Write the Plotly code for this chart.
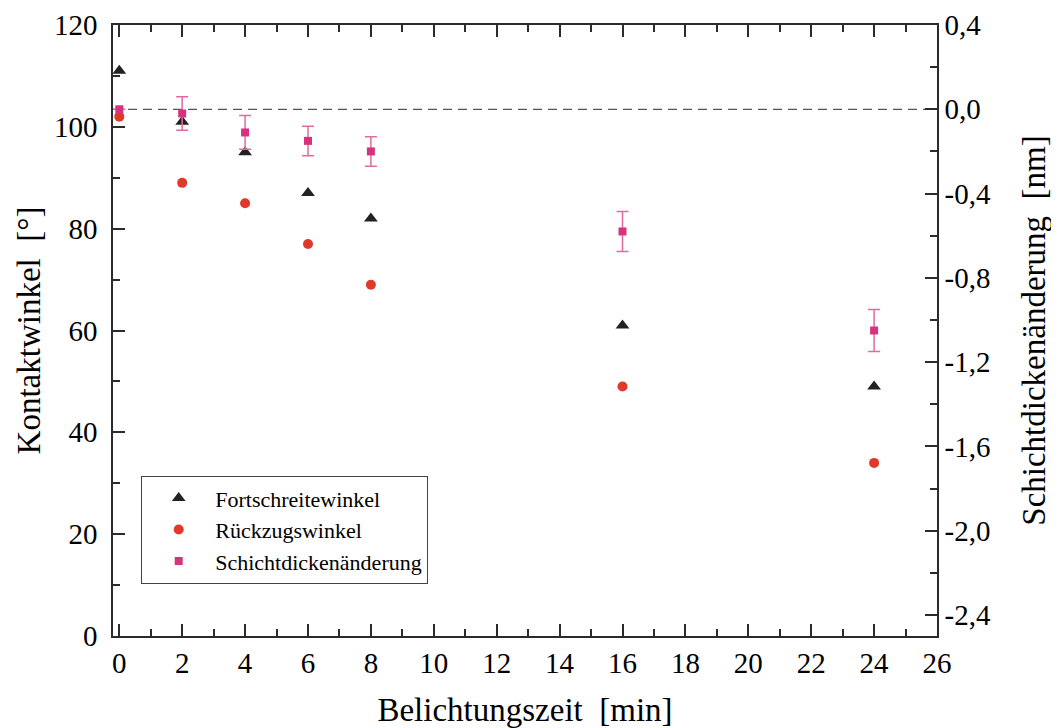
import plotly.graph_objects as go

# Data
zeit = [0, 2, 4, 6, 8, 16, 24]
fortschreitewinkel = [111, 101, 95, 87, 82, 61, 49]
rueckzugswinkel = [102, 89, 85, 77, 69, 49, 34]
schichtdicke = [0.0, -0.02, -0.11, -0.15, -0.20, -0.58, -1.05]
schichtdicke_err = [0.0, 0.08, 0.08, 0.07, 0.07, 0.095, 0.10]

x_tickvals = list(range(0, 27, 2))
y_tickvals = [0, 20, 40, 60, 80, 100, 120]
y2_tickvals = [0.4, 0.0, -0.4, -0.8, -1.2, -1.6, -2.0, -2.4]
y2_ticktext = ["0,4", "0,0", "-0,4", "-0,8", "-1,2", "-1,6", "-2,0", "-2,4"]

FONT = "Liberation Serif, Times New Roman, serif"
AX = "#2b2b2b"

fig = go.Figure()

fig.add_trace(go.Scatter(
    x=zeit, y=fortschreitewinkel, mode="markers", name="Fortschreitewinkel",
    legendgroup="a",
    marker=dict(symbol="triangle-up", size=12, color="#222222"),
))
fig.add_trace(go.Scatter(
    x=zeit, y=rueckzugswinkel, mode="markers", name="Rückzugswinkel",
    legendgroup="b",
    marker=dict(symbol="circle", size=10, color="#e0392b"),
))
fig.add_trace(go.Scatter(
    x=zeit, y=schichtdicke, mode="markers", name="Schichtdickenänderung",
    legendgroup="c", yaxis="y2",
    marker=dict(symbol="square", size=8, color="#d6337f"),
    error_y=dict(type="data", array=schichtdicke_err, visible=True,
                 color="#e36aa0", thickness=1.5, width=6),
))

# dashed reference line at 0 nm
fig.add_shape(type="line", xref="paper", x0=0, x1=1, yref="y2", y0=0, y1=0,
              line=dict(color="#555555", width=1.3, dash="9px,6px"), layer="below")

common_axis = dict(
    showline=True, linecolor=AX, linewidth=1.5, showgrid=False, zeroline=False,
    ticks="inside", ticklen=12, tickwidth=1.5, tickcolor=AX, automargin=False,
    tickfont=dict(family=FONT, size=29, color="black"),
)

fig.update_layout(
    width=1051, height=720,
    margin=dict(l=105, r=122, t=17, b=92),
    paper_bgcolor="white", plot_bgcolor="white",
    font=dict(family=FONT, color="black"),
    xaxis=dict(
        **common_axis, range=[-0.2, 26], tickvals=x_tickvals, mirror="ticks",
        minor=dict(dtick=1, tick0=0, ticks="inside", ticklen=7, tickwidth=1.5, tickcolor=AX),
        title=dict(text="Belichtungszeit  [min]", font=dict(family=FONT, size=33), standoff=22),
    ),
    yaxis=dict(
        **common_axis, range=[0, 120], tickvals=y_tickvals, ticklabelstandoff=8,
        minor=dict(dtick=10, tick0=0, ticks="inside", ticklen=7, tickwidth=1.5, tickcolor=AX),
        title=dict(text="Kontaktwinkel  [°]", font=dict(family=FONT, size=33), standoff=3),
    ),
    yaxis2=dict(
        **common_axis, overlaying="y", side="right", range=[-2.5, 0.4],
        tickvals=y2_tickvals, ticktext=y2_ticktext,
        minor=dict(dtick=0.2, tick0=0, ticks="inside", ticklen=7, tickwidth=1.5, tickcolor=AX),
        title=dict(text="Schichtdickenänderung  [nm]", font=dict(family=FONT, size=33), standoff=32),
    ),
    legend=dict(
        x=0.034, y=0.262, xanchor="left", yanchor="top",
        bordercolor="#444444", borderwidth=1.2, bgcolor="white",
        font=dict(family=FONT, size=22, color="black"),
        tracegroupgap=0, itemwidth=63, entrywidth=322, entrywidthmode="pixels",
    ),
    showlegend=True,
)

fig.write_html("out.html")
